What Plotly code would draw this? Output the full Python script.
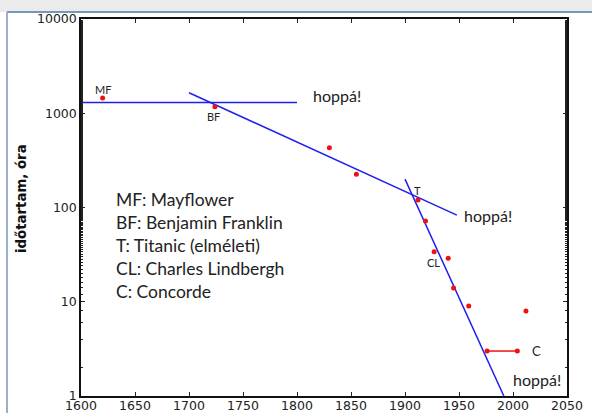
import math
import plotly.graph_objects as go

# Travel time across the Atlantic (hours), by year
years = [1620, 1724, 1830, 1855, 1912, 1919, 1927, 1940, 1945, 1959, 2012]
hours = [1450, 1175, 430, 225, 120, 72, 34, 29, 14, 9, 8]

# Concorde service period
concorde_years = [1976, 2004]
concorde_hours = [3, 3]

# Trend segments
trend1_years = [1600, 1800]
trend1_hours = [1300, 1300]
trend2_years = [1700, 1948]
trend2_hours = [1650, 83]
trend3_years = [1900, 1991.5]
trend3_hours = [200, 1]

x_ticks = [1600, 1650, 1700, 1750, 1800, 1850, 1900, 1950, 2000, 2050]
y_ticks = [1, 10, 100, 1000, 10000]

legend_lines = ["MF: Mayflower", "BF: Benjamin Franklin", "T: Titanic (elméleti)",
                "CL: Charles Lindbergh", "C: Concorde"]

BLUE = "#1f1ff0"
RED = "#ee1111"
TXT = "Lato"

fig = go.Figure()
for tx, ty in [(trend1_years, trend1_hours), (trend2_years, trend2_hours),
               (trend3_years, trend3_hours)]:
    fig.add_trace(go.Scatter(x=tx, y=ty, mode="lines",
                             line=dict(color=BLUE, width=1.5), hoverinfo="skip"))
fig.add_trace(go.Scatter(x=concorde_years, y=concorde_hours, mode="lines+markers",
                         line=dict(color=RED, width=1.5),
                         marker=dict(color=RED, size=5)))
fig.add_trace(go.Scatter(x=years, y=hours, mode="markers",
                         marker=dict(color=RED, size=5)))

W, H = 592, 413
ml, mr, mt, mb = 81, 25, 19, 17
pw = W - ml - mr
ph = H - mt - mb

def px(xpix):
    return (xpix - ml) / pw

def py(ypix):
    return 1 - (ypix - mt) / ph

annotations = []

def label(x, y, text, size, xanchor="center"):
    annotations.append(dict(x=x, y=math.log10(y), xref="x", yref="y", text=text,
                            showarrow=False, xanchor=xanchor, yanchor="middle",
                            font=dict(family=TXT, size=size, color="#222")))

label(1620, 1800, "MF", 11)
label(1723, 920, "BF", 11)
label(1912, 153, "T", 11)
label(1926, 26, "CL", 11)
label(2022, 3, "C", 13)
label(1837, 1560, "hoppá!", 16)
label(1977, 83, "hoppá!", 16)
label(2022, 1.5, "hoppá!", 16)

for i, t in enumerate(legend_lines):
    annotations.append(dict(x=px(114), y=py(199.5 + i * 23.0), xref="paper", yref="paper",
                            text=t, showarrow=False, xanchor="left", yanchor="middle",
                            font=dict(family=TXT, size=17.5, color="#222")))

annotations.append(dict(x=px(21), y=py(199), xref="paper", yref="paper",
                        text="<b>időtartam, óra</b>", textangle=-90, showarrow=False,
                        xanchor="center", yanchor="middle",
                        font=dict(family="DejaVu Sans", size=13.3, color="#111")))

shapes = [
    # grey header band and blue frame around the figure
    dict(type="rect", xref="paper", yref="paper", x0=px(-5), x1=px(W + 5),
         y0=py(12), y1=py(-5), fillcolor="#ebebeb", line=dict(width=0), layer="below"),
    dict(type="line", xref="paper", yref="paper", x0=px(7), x1=px(W + 5),
         y0=py(12), y1=py(12), line=dict(color="#7896bc", width=2)),
    dict(type="line", xref="paper", yref="paper", x0=px(7), x1=px(7),
         y0=py(12), y1=py(H + 5), line=dict(color="#9ab0cc", width=2)),
]

axis_font = dict(family="DejaVu Sans", size=12.5, color="#222")
fig.update_layout(
    width=W, height=H,
    margin=dict(l=ml, r=mr, t=mt, b=mb, autoexpand=False),
    paper_bgcolor="white", plot_bgcolor="white",
    showlegend=False,
    annotations=annotations, shapes=shapes,
    xaxis=dict(range=[1600, 2050], tickvals=x_ticks, ticktext=[str(v) for v in x_ticks],
               ticks="inside", ticklen=4, tickcolor="#222", showgrid=False, zeroline=False,
               showline=True, linecolor="#111", linewidth=1.5, mirror="allticks",
               tickfont=axis_font, automargin=False, ticklabelstandoff=-3),
    yaxis=dict(type="log", range=[0, 4], tickvals=y_ticks, ticktext=[str(v) for v in y_ticks],
               ticks="inside", ticklen=4, tickcolor="#222", showgrid=False, zeroline=False,
               showline=True, linecolor="#111", linewidth=1.5, mirror="allticks",
               tickfont=axis_font, automargin=False,
               minor=dict(ticks="inside", ticklen=2, tickcolor="#222", showgrid=False)),
)

fig.write_html("out.html")
